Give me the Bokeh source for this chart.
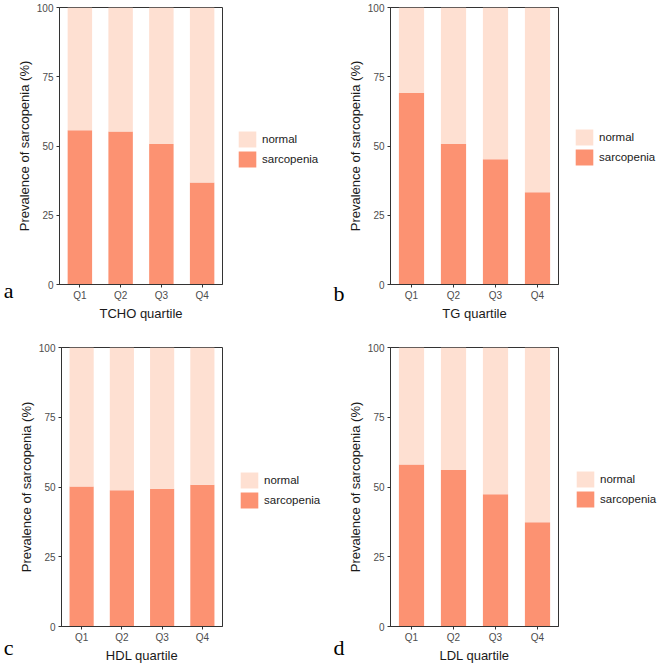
from bokeh.plotting import figure
from bokeh.models import (ColumnDataSource, Range1d, FactorRange, Legend, LegendItem,
                          LinearAxis, FixedTicker)
from bokeh.core.properties import value
from bokeh.layouts import column, row
from bokeh.embed import file_html
from bokeh.resources import INLINE

# ---- data ----
quartiles = ["Q1", "Q2", "Q3", "Q4"]
y_ticks = [0, 25, 50, 75, 100]

tcho_sarcopenia = [55.7, 55.2, 50.7, 36.8]
tcho_normal = [44.3, 44.8, 49.3, 63.2]

tg_sarcopenia = [69.1, 50.7, 45.2, 33.3]
tg_normal = [30.9, 49.3, 54.8, 66.7]

hdl_sarcopenia = [50.2, 48.8, 49.4, 50.8]
hdl_normal = [49.8, 51.2, 50.6, 49.2]

ldl_sarcopenia = [58.1, 56.1, 47.4, 37.4]
ldl_normal = [41.9, 43.9, 52.6, 62.6]

legend_labels = ["normal", "sarcopenia"]
x_titles = ["TCHO quartile", "TG quartile", "HDL quartile", "LDL quartile"]
panel_letters = ["a", "b", "c", "d"]
y_title = "Prevalence of sarcopenia (%)"

SARC_COLOR = "#FC9272"
NORM_COLOR = "#FEE0D2"
AXIS_COLOR = "#333333"
FONT = "Liberation Sans"
H = 334


def make_main(src, xtitle, letter, width, ml, mt, mb,
              letter_lines, letter_lh, letter_standoff):
    p = figure(
        x_range=FactorRange(*quartiles, range_padding=0),
        y_range=Range1d(0, 100),
        width=width, height=H,
        output_backend="svg", toolbar_location=None,
        min_border_left=ml, min_border_right=2,
        min_border_top=mt, min_border_bottom=mb,
    )
    p.vbar_stack(["sarc_val", "norm_val"], x="q", width=0.6,
                 fill_color=[SARC_COLOR, NORM_COLOR], line_color=None, source=src)
    p.xgrid.visible = False
    p.ygrid.visible = False
    p.outline_line_color = AXIS_COLOR
    p.outline_line_width = 1
    p.background_fill_color = "white"
    p.border_fill_color = "white"

    p.yaxis.ticker = y_ticks
    p.yaxis.axis_label = y_title
    p.xaxis.axis_label = xtitle
    for ax in (p.xaxis[0], p.yaxis[0]):
        ax.axis_line_color = AXIS_COLOR
        ax.axis_line_width = 1
        ax.major_tick_line_color = AXIS_COLOR
        ax.major_tick_out = 3
        ax.major_tick_in = 0
        ax.minor_tick_line_color = None
        ax.major_label_text_font = FONT
        ax.major_label_text_font_size = "10px"
        ax.major_label_text_color = "#4D4D4D"
        ax.axis_label_text_font = FONT
        ax.axis_label_text_font_size = "13px"
        ax.axis_label_text_font_style = "normal"
        ax.axis_label_text_color = "#1A1A1A"
        ax.major_label_standoff = 2
        ax.axis_label_standoff = 2
    p.yaxis[0].major_label_standoff = 3

    # panel letter, carried by an extra left axis without line or ticks
    letter_axis = LinearAxis(
        ticker=FixedTicker(ticks=[0]),
        major_label_overrides={0: ("\n" * (letter_lines - 1)) + letter},
        axis_line_color=None, major_tick_line_color=None, minor_tick_line_color=None,
        major_tick_out=0, major_tick_in=0, major_label_standoff=letter_standoff,
        major_label_text_font="Liberation Serif", major_label_text_font_size="22px",
        major_label_text_color="black", major_label_text_line_height=letter_lh,
    )
    p.add_layout(letter_axis, "left")
    return p


def make_legend(src, width, lx, ly):
    # hidden renderers that only feed the legend keys
    q = figure(width=width, height=H, output_backend="svg", toolbar_location=None,
               x_range=FactorRange(*quartiles), y_range=Range1d(101, 102),
               x_axis_type=None, y_axis_type=None,
               min_border_left=0, min_border_right=0,
               min_border_top=0, min_border_bottom=0)
    q.xgrid.visible = False
    q.ygrid.visible = False
    q.outline_line_color = None
    q.background_fill_color = "white"
    q.border_fill_color = "white"
    r_norm = q.vbar(x="q", top="norm_val", width=0.6, fill_color=NORM_COLOR,
                    line_color=None, source=src)
    r_sarc = q.vbar(x="q", top="sarc_val", width=0.6, fill_color=SARC_COLOR,
                    line_color=None, source=src)
    r_norm.visible = False
    r_sarc.visible = False
    legend = Legend(
        items=[LegendItem(label=value(legend_labels[0]), renderers=[r_norm]),
               LegendItem(label=value(legend_labels[1]), renderers=[r_sarc])],
        location=(lx, ly), orientation="vertical",
        glyph_width=22, glyph_height=20, spacing=0,
        padding=0, margin=0, label_standoff=4,
        label_text_font=FONT, label_text_font_size="11.5px",
        label_text_color="#1A1A1A",
        border_line_color=None, background_fill_alpha=0,
        inactive_fill_alpha=0,
    )
    q.add_layout(legend)
    return q


src_a = ColumnDataSource(dict(q=quartiles, sarc_val=tcho_sarcopenia, norm_val=tcho_normal))
src_b = ColumnDataSource(dict(q=quartiles, sarc_val=tg_sarcopenia, norm_val=tg_normal))
src_c = ColumnDataSource(dict(q=quartiles, sarc_val=hdl_sarcopenia, norm_val=hdl_normal))
src_d = ColumnDataSource(dict(q=quartiles, sarc_val=ldl_sarcopenia, norm_val=ldl_normal))

pa = make_main(src_a, x_titles[0], panel_letters[0], 224, 54, 7, 49, 2, 0.45, 0)
la = make_legend(src_a, 106, 12, 115)
pb = make_main(src_b, x_titles[1], panel_letters[1], 230, 58, 5, 50, 2, 0.7, 0)
lb = make_legend(src_b, 100, 13, 117)
pc = make_main(src_c, x_titles[2], panel_letters[2], 224, 54, 13, 41, 2, 1.7, 2)
lc = make_legend(src_c, 106, 14, 116)
pd = make_main(src_d, x_titles[3], panel_letters[3], 230, 59, 12, 42, 2, 1.7, 0)
ld = make_legend(src_d, 100, 14, 117)

layout = column(row(pa, la, pb, lb), row(pc, lc, pd, ld))

open("out.html", "w").write(file_html(layout, INLINE))
